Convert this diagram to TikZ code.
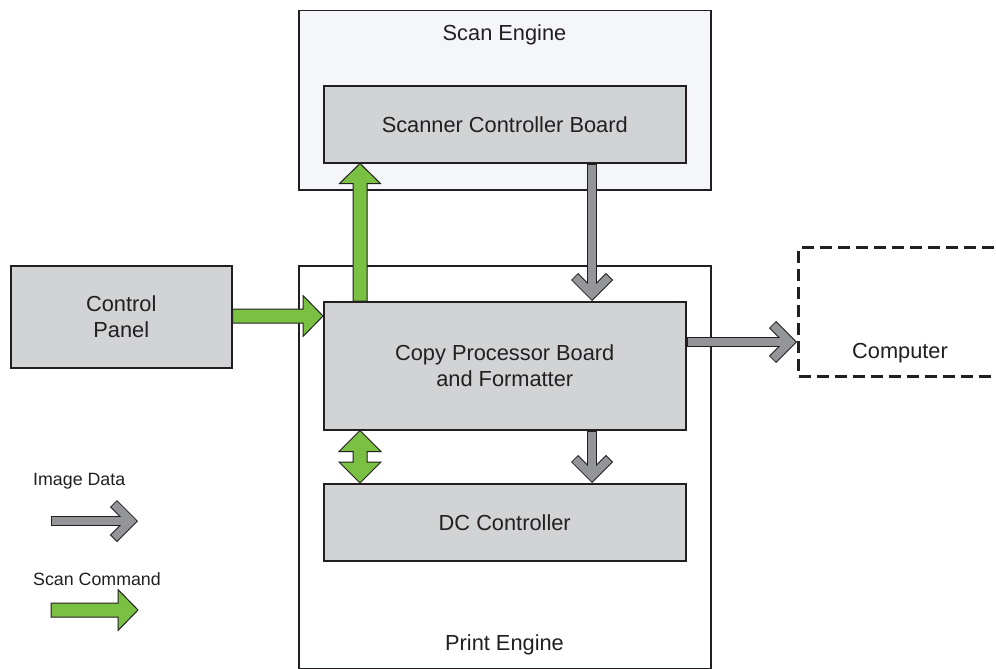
\documentclass[tikz,border=0pt]{standalone}
\usepackage{fontspec}
\setmainfont{Liberation Sans}
\usetikzlibrary{calc}
\definecolor{boxfill}{HTML}{D1D3D4}
\definecolor{dark}{HTML}{231F20}
\definecolor{grn}{HTML}{7AC143}
\definecolor{gry}{HTML}{939598}
\definecolor{paleblue}{HTML}{F4F6F9}
\tikzset{
  outerbox/.style={draw=dark, line width=1.5pt, rectangle, inner sep=0pt},
  innerbox/.style={draw=dark, fill=boxfill, line width=1.5pt, rectangle, inner sep=0pt,
     align=center, font=\fontsize{21.8}{25.5}\selectfont, text=dark},
  lbl/.style={font=\fontsize{21.8}{25.5}\selectfont, text=dark, inner sep=0pt},
  leglbl/.style={font=\fontsize{17.8}{21}\selectfont, text=dark, inner sep=0pt, anchor=west},
  garrow/.style={fill=grn, draw=dark, line width=1pt, line join=miter},
  compbox/.style={draw=dark, line width=3pt, dash pattern=on 12pt off 6pt, rectangle, inner sep=0pt},
}
% green block arrow from #1 to #2
\newcommand\greenarrow[2]{%
  \coordinate (ga-s) at (#1);
  \coordinate (ga-e) at (#2);
  \coordinate (ga-h) at ($(ga-e)!20pt!(ga-s)$);
  \filldraw[garrow] ($(ga-s)!7pt!90:(ga-e)$) -- ($(ga-h)!7pt!-90:(ga-s)$)
    -- ($(ga-h)!20.5pt!-90:(ga-s)$) -- (ga-e) -- ($(ga-h)!20.5pt!90:(ga-s)$)
    -- ($(ga-h)!7pt!90:(ga-s)$) -- ($(ga-s)!7pt!-90:(ga-e)$) -- cycle;
}
% gray chevron arrow from #1 to #2
\newcommand\imgarrow[2]{%
  \coordinate (ia-s) at (#1);
  \coordinate (ia-e) at (#2);
  \coordinate (ia-t) at ($(ia-e)!7.07pt!(ia-s)$);
  \coordinate (ia-l) at ($(ia-t)!24.7pt!45:(ia-s)$);
  \coordinate (ia-r) at ($(ia-t)!24.7pt!-45:(ia-s)$);
  \draw[line width=10pt, dark] (ia-s) -- (ia-t);
  \draw[line width=10pt, dark, line join=miter] (ia-l) -- (ia-t) -- (ia-r);
  \draw[line width=8pt, gry, shorten <=1pt] (ia-s) -- (ia-t);
  \draw[line width=8pt, gry, line join=miter, shorten <=1pt, shorten >=1pt] (ia-l) -- (ia-t) -- (ia-r);
}
\begin{document}
\begin{tikzpicture}[x=1pt, y=-1pt]
\useasboundingbox (0,0) rectangle (996,669);
\fill[white] (0,0) rectangle (996,669);

% outer boxes
\node[outerbox, fill=paleblue, minimum width=412pt, minimum height=179pt, anchor=north west] (scan) at (298,10) {};
\node[lbl] (scanlbl) at (504.5,35) {Scan Engine};
\node[outerbox, fill=white, minimum width=412pt, minimum height=403pt, anchor=north west] (print) at (298,265) {};
\node[lbl] (printlbl) at (504.5,645) {Print Engine};

% inner boxes
\node[innerbox, minimum width=362pt, minimum height=77pt, anchor=north west] (scb) at (323,85) {Scanner Controller Board};
\node[innerbox, minimum width=362pt, minimum height=128pt, anchor=north west] (copy) at (323,301) {Copy Processor Board\\and Formatter};
\node[innerbox, minimum width=362pt, minimum height=77pt, anchor=north west] (dc) at (323,483) {DC Controller};
\node[innerbox, minimum width=221pt, minimum height=102pt, anchor=north west] (cp) at (10,265) {Control\\Panel};

% computer (clipped at the right edge)
\begin{scope}
  \clip (0,0) rectangle (996,669);
  \node[compbox, minimum width=240pt, minimum height=129pt, anchor=north west] (comp) at (797,246) {};
\end{scope}
\node[lbl] (complbl) at (900,353) {Computer};

% arrows
\greenarrow{360,0 |- copy.north}{360,0 |- scb.south}
\greenarrow{cp.east |- 0,316}{0,316 -| copy.west}
\imgarrow{592,0 |- scb.south}{592,0 |- copy.north}
\imgarrow{copy.east |- 0,342}{0,342 -| comp.west}
\imgarrow{592,0 |- copy.south}{592,0 |- dc.north}

% double green arrow
\coordinate (da-t) at (360,0 |- copy.south);
\coordinate (da-b) at (360,0 |- dc.north);
\filldraw[garrow] (da-t) -- ($(da-t)+(21,21)$) -- ($(da-t)+(7,21)$) -- ($(da-b)+(7,-21)$)
  -- ($(da-b)+(21,-21)$) -- (da-b) -- ($(da-b)+(-21,-21)$) -- ($(da-b)+(-7,-21)$)
  -- ($(da-t)+(-7,21)$) -- ($(da-t)+(-21,21)$) -- cycle;

% legend
\node[leglbl] (legimg) at (33,481) {Image Data};
\coordinate (li-s) at (51,521);
\coordinate (li-e) at (138,521);
\imgarrow{li-s}{li-e}
\node[leglbl] (legscan) at (33,579) {Scan Command};
\coordinate (ls-s) at (51,610);
\coordinate (ls-e) at (138,610);
\greenarrow{ls-s}{ls-e}
\end{tikzpicture}
\end{document}
